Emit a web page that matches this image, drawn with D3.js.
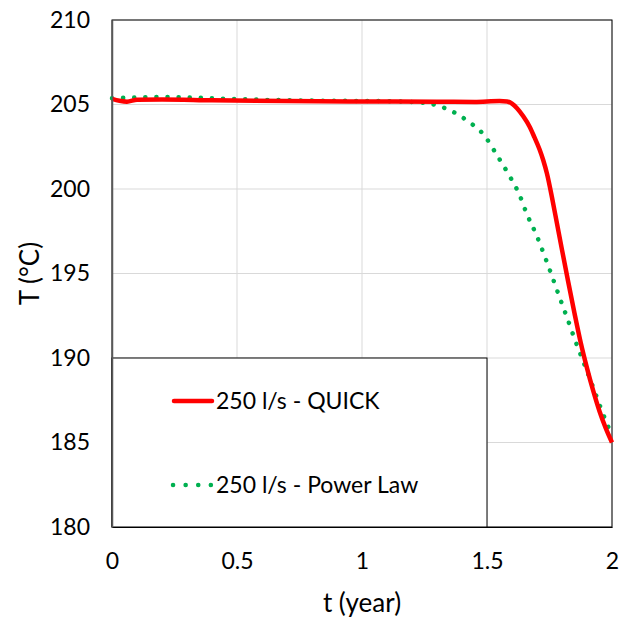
<!DOCTYPE html>
<html><head><meta charset="utf-8">
<script src="https://cdn.jsdelivr.net/npm/d3@7"></script>
<style>body{margin:0;background:#fff;} svg{display:block;font-family:Lato,"Open Sans",sans-serif;}</style>
</head><body>
<svg id="c" width="629" height="619"></svg>
<script>
const xTicks = [0, 0.5, 1, 1.5, 2];
const xTickLabels = ["0", "0.5", "1", "1.5", "2"];
const yTicks = [180, 185, 190, 195, 200, 205, 210];
const seriesNames = ["250 l/s - QUICK", "250 l/s - Power Law"];
const quickT = [0, 0.03, 0.06, 0.1, 0.2, 0.4, 0.7, 1.0, 1.3, 1.45, 1.55, 1.58, 1.6, 1.62, 1.645, 1.67, 1.69, 1.71, 1.725, 1.74, 1.76, 1.78, 1.8, 1.825, 1.85, 1.875, 1.9, 1.925, 1.95, 1.975, 2.0];
const quickV = [205.33, 205.22, 205.17, 205.28, 205.3, 205.25, 205.2, 205.18, 205.17, 205.15, 205.2, 205.18, 205.05, 204.78, 204.3, 203.7, 203.05, 202.35, 201.7, 200.9, 199.5, 197.95, 196.4, 194.5, 192.65, 190.9, 189.4, 188.05, 186.85, 185.85, 185.0];
const powerT = [0, 0.1, 0.2, 0.3, 0.5, 0.7, 0.9, 1.1, 1.2, 1.27, 1.35, 1.42, 1.49, 1.54, 1.585, 1.63, 1.66, 1.7, 1.73, 1.76, 1.79, 1.82, 1.85, 1.885, 1.93, 1.96, 2.0];
const powerV = [205.37, 205.42, 205.45, 205.42, 205.32, 205.25, 205.22, 205.2, 205.15, 205.05, 204.67, 204.05, 203.15, 202.0, 200.9, 199.65, 198.5, 197.2, 196.05, 194.85, 193.6, 192.4, 191.15, 189.8, 188.05, 186.85, 185.4];

const svg = d3.select("#c");
const L = 112, R = 612, T = 20, B = 527;
const x = d3.scaleLinear().domain([0, 2]).range([L, R]);
const y = d3.scaleLinear().domain([180, 210]).range([B, T]);
const FONT = "Lato, 'Open Sans', sans-serif";

// gridlines
svg.append("g").selectAll("line.h").data(yTicks).join("line")
  .attr("x1", L).attr("x2", R).attr("y1", d => y(d)).attr("y2", d => y(d))
  .attr("stroke", "#d9d9d9").attr("stroke-width", 1);
svg.append("g").selectAll("line.v").data(xTicks).join("line")
  .attr("y1", T).attr("y2", B).attr("x1", d => x(d)).attr("x2", d => x(d))
  .attr("stroke", "#d9d9d9").attr("stroke-width", 1);

// plot border
svg.append("rect").attr("x", L).attr("y", T).attr("width", R - L).attr("height", B - T)
  .attr("fill", "none").attr("stroke", "#000").attr("stroke-width", 1);

// axes (labels only)
const yAxis = d3.axisLeft(y).tickValues(yTicks).tickSize(0).tickPadding(22);
const gy = svg.append("g").attr("transform", `translate(${L},0)`).call(yAxis);
gy.select(".domain").attr("stroke", "#595959").attr("stroke-width", 1.5);
gy.selectAll("text").attr("font-size", 23).attr("fill", "#000").attr("font-family", FONT);

const xAxis = d3.axisBottom(x).tickValues(xTicks).tickFormat((d, i) => xTickLabels[i]).tickSize(0).tickPadding(26);
const gx = svg.append("g").attr("transform", `translate(0,${B})`).call(xAxis);
gx.select(".domain").attr("stroke", "#000").attr("stroke-width", 1);
gx.selectAll("text").attr("font-size", 23).attr("fill", "#000").attr("font-family", FONT);

// axis titles
svg.append("text").attr("x", (L + R) / 2).attr("y", 612).attr("text-anchor", "middle")
  .attr("font-size", 26).text("t (year)");
svg.append("text").attr("transform", `translate(39,${(T + B) / 2}) rotate(-90)`).attr("text-anchor", "middle")
  .attr("font-size", 26).text("T (°C)");

// series
const quick = quickT.map((t, i) => [t, quickV[i]]);
const power = powerT.map((t, i) => [t, powerV[i]]);
const line = d3.line().x(d => x(d[0])).y(d => y(d[1])).curve(d3.curveMonotoneX);

svg.append("path").datum(power).attr("d", line).attr("fill", "none")
  .attr("stroke", "#00b050").attr("stroke-width", 4.5).attr("stroke-linecap", "round")
  .attr("stroke-dasharray", "0.1 11");
svg.append("path").datum(quick).attr("d", line).attr("fill", "none")
  .attr("stroke", "#ff0000").attr("stroke-width", 4.5).attr("stroke-linejoin", "round");

// legend box
const lx0 = x(0), lx1 = x(1.5), ly0 = y(190), ly1 = y(180);
svg.append("rect").attr("x", lx0).attr("y", ly0).attr("width", lx1 - lx0).attr("height", ly1 - ly0)
  .attr("fill", "#fff").attr("stroke", "#000").attr("stroke-width", 1);
gy.raise();
const leg = svg.append("g");
leg.append("line").attr("x1", 174).attr("x2", 212).attr("y1", 401).attr("y2", 401)
  .attr("stroke", "#ff0000").attr("stroke-width", 4.5).attr("stroke-linecap", "round");
leg.append("line").attr("x1", 173).attr("x2", 211).attr("y1", 485).attr("y2", 485)
  .attr("stroke", "#00b050").attr("stroke-width", 4.5).attr("stroke-linecap", "round").attr("stroke-dasharray", "0.1 12.5");
leg.append("text").attr("x", 216).attr("y", 409).attr("font-size", 23).text(seriesNames[0]);
leg.append("text").attr("x", 216).attr("y", 493).attr("font-size", 23).text(seriesNames[1]);
</script>
</body></html>
